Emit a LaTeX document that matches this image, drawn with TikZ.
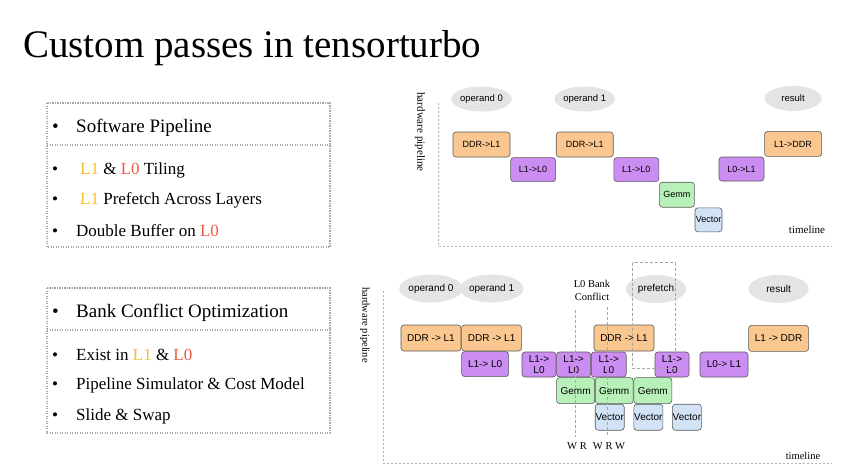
\documentclass[tikz,border=0pt]{standalone}
\usepackage{fontspec}
\setmainfont{Liberation Serif}
\newfontfamily\labelfont{Liberation Sans}
\usetikzlibrary{positioning,shapes.geometric}

\definecolor{ldfill}{HTML}{F9C78F}
\definecolor{mvfill}{HTML}{CC8DF2}
\definecolor{gmfill}{HTML}{B8F0B9}
\definecolor{vcfill}{HTML}{D3E3F6}
\definecolor{opfill}{HTML}{E4E4E4}
\definecolor{lonecol}{HTML}{F2C12E}
\definecolor{lzerocol}{HTML}{EC5B3F}

\newcommand{\lonetxt}{\textcolor{lonecol}{L1}}
\newcommand{\lzerotxt}{\textcolor{lzerocol}{L0}}
\newcommand{\bul}[1][24pt]{\makebox[#1][l]{\textbullet}}

\begin{document}
\begin{tikzpicture}[x=1pt, y=-1pt,
    box/.style={rectangle, draw=black!65, line width=0.6pt, rounded corners=3pt, inner sep=0pt, text centered, font=\labelfont\fontsize{9}{10}\selectfont},
    bot/.style={font=\labelfont\fontsize{10}{11}\selectfont, align=center},
    load/.style={box, fill=ldfill},
    move/.style={box, fill=mvfill},
    comp/.style={box, fill=gmfill},
    vect/.style={box, fill=vcfill},
    oper/.style={ellipse, fill=opfill, inner sep=0pt, font=\labelfont\fontsize{9.5}{10}\selectfont},
    note/.style={inner sep=0pt, align=center, font=\fontsize{10.5}{13}\selectfont},
    head/.style={anchor=west, inner sep=0pt, font=\fontsize{19}{21}\selectfont},
    item/.style={anchor=west, inner sep=0pt, font=\fontsize{17}{19}\selectfont},
    frame/.style={draw=gray!70, line width=1.1pt, dash pattern=on 1.1pt off 1.4pt},
    axis/.style={draw=gray!60, line width=0.6pt, dash pattern=on 2pt off 2pt},
    guide/.style={draw=gray!70, line width=0.6pt, dash pattern=on 3pt off 2pt}
]
\useasboundingbox (0,0) rectangle (864,472);

\node[anchor=base west, inner sep=0pt, font=\fontsize{39}{44}\selectfont] (title) at (23,57) {Custom passes in tensorturbo};

% left boxes
\draw[frame] (47,103) rectangle (330,247);
\draw[frame] (47,145) -- (330,145);
\node[head] (swpipe) at (52,128) {\bul Software Pipeline};
\node[item] (tiling) at (52,170) {\bul[28pt]\lonetxt{} \& \lzerotxt{} Tiling};
\node[item] (prefl) at (52,200) {\bul[28pt]\lonetxt{} Prefetch Across Layers};
\node[item] (dbuf) at (52,231) {\bul Double Buffer on \lzerotxt};

\draw[frame] (47,288) rectangle (330,433);
\draw[frame] (47,330) -- (330,330);
\node[head] (bankopt) at (52,313) {\bul Bank Conflict Optimization};
\node[item] (exist) at (52,355) {\bul Exist in \lonetxt{} \& \lzerotxt};
\node[item] (simu) at (52,385) {\bul Pipeline Simulator \& Cost Model};
\node[item] (slide) at (52,416) {\bul Slide \& Swap};

% top pipeline
\coordinate (axAtop) at (438,103);
\coordinate (axA) at (438,246);
\coordinate (axAend) at (832,246);
\draw[axis] (axAtop) -- (axA) -- (axAend);
\node[note, rotate=-90, font=\fontsize{11}{13}\selectfont] (hwA) at (420,132) {hardware pipeline};
\node[note, font=\fontsize{11}{13}\selectfont] (timeA) at (807,230) {timeline};

\node[load, minimum width=57pt, minimum height=25pt] (ddrA) at (481.5,144.5) {DDR->L1};
\node[move, minimum width=45pt, minimum height=24pt, below right=0pt of ddrA] (lzA) {L1->L0};
\node[load, minimum width=57pt, minimum height=25pt, above right=0pt of lzA] (ddrB) {DDR->L1};
\node[move, minimum width=45pt, minimum height=24pt, below right=0pt of ddrB] (lzB) {L1->L0};
\node[comp, minimum width=35pt, minimum height=25pt, below right=0pt of lzB] (gemmA) {Gemm};
\node[vect, minimum width=27pt, minimum height=24pt, below right=0pt of gemmA] (vecA) {Vector};
\node[move, minimum width=45pt, minimum height=24pt] (backA) at (741.5,169) {L0->L1};
\node[load, minimum width=57pt, minimum height=25pt, above right=0pt of backA] (outA) {L1->DDR};

\node[oper, minimum width=57pt, minimum height=25pt, above=20pt of ddrA] (opA) {operand 0};
\node[oper, minimum width=57pt, minimum height=25pt, above=20pt of ddrB] (opB) {operand 1};
\node[oper, minimum width=57pt, minimum height=25pt, above=20pt of outA] (resA) {result};

% bottom pipeline
\coordinate (axBtop) at (383,291);
\coordinate (axB) at (383,463);
\coordinate (axBend) at (832,463);
\draw[axis] (axBtop) -- (axB) -- (axBend);
\node[note, rotate=-90] (hwB) at (365,325) {hardware pipeline};
\node[note] (timeB) at (803,456) {timeline};

\node[load, bot, minimum width=60pt, minimum height=26pt] (ddr1) at (431,338) {DDR -> L1};
\node[load, bot, minimum width=60pt, minimum height=26pt, right=0pt of ddr1] (ddr2) {DDR -> L1};
\node[move, bot, minimum width=47pt, minimum height=25pt, below right=0pt of ddr2.south west] (lz1) {L1-> L0};
\node[move, bot, minimum width=34pt, minimum height=25pt] (lz2) at (539,364.5) {L1->\\L0};
\node[move, bot, minimum width=34pt, minimum height=25pt, right=0pt of lz2] (lz3) {L1->\\L0};
\node[move, bot, minimum width=35pt, minimum height=25pt, right=0pt of lz3] (lz4) {L1->\\L0};
\node[load, bot, minimum width=60pt, minimum height=26pt] (ddr3) at (624,338) {DDR -> L1};
\node[move, bot, minimum width=34pt, minimum height=25pt] (lz5) at (672,364.5) {L1->\\L0};
\node[move, bot, minimum width=48pt, minimum height=25pt] (back1) at (724,364.5) {L0-> L1};
\node[load, bot, minimum width=60pt, minimum height=26pt, above right=0pt of back1] (out1) {L1 -> DDR};

\node[comp, bot, minimum width=38pt, minimum height=26pt, below right=0pt of lz2.south east] (gemm1) {Gemm};
\node[comp, bot, minimum width=38pt, minimum height=26pt, right=0pt of gemm1] (gemm2) {Gemm};
\node[comp, bot, minimum width=38pt, minimum height=26pt, right=0pt of gemm2] (gemm3) {Gemm};
\node[vect, bot, minimum width=29pt, minimum height=26pt, below right=0pt of gemm1] (vec1) {Vector};
\node[vect, bot, minimum width=29pt, minimum height=26pt, below right=0pt of gemm2] (vec2) {Vector};
\node[vect, bot, minimum width=29pt, minimum height=26pt, below right=0pt of gemm3] (vec3) {Vector};

\node[oper, font=\labelfont\fontsize{10}{11}\selectfont, minimum width=60pt, minimum height=28pt, above=22pt of ddr1] (op0) {operand 0};
\node[oper, font=\labelfont\fontsize{10}{11}\selectfont, minimum width=60pt, minimum height=28pt, above=22pt of ddr2] (op1) {operand 1};
\node[oper, font=\labelfont\fontsize{10}{11}\selectfont, minimum width=60pt, minimum height=28pt] (pref) at (656,289) {prefetch};
\node[oper, font=\labelfont\fontsize{10}{11}\selectfont, minimum width=60pt, minimum height=28pt, above=22pt of out1] (res1) {result};

\node[note] (conflict) at (592,290.5) {L0 Bank\\Conflict};
\node[note] (wrA) at (577,446) {W R};
\node[note] (wrB) at (609,446) {W R W};

\coordinate (cfA) at (575.7,310);
\coordinate (cfAend) at (575.7,437);
\coordinate (cfB) at (607.7,307);
\coordinate (cfBend) at (607.7,435);
\draw[guide] (cfA) -- (cfAend);
\draw[guide] (cfB) -- (cfBend);
\draw[guide] (632.7,262.7) rectangle (675,368);
\end{tikzpicture}
\end{document}
